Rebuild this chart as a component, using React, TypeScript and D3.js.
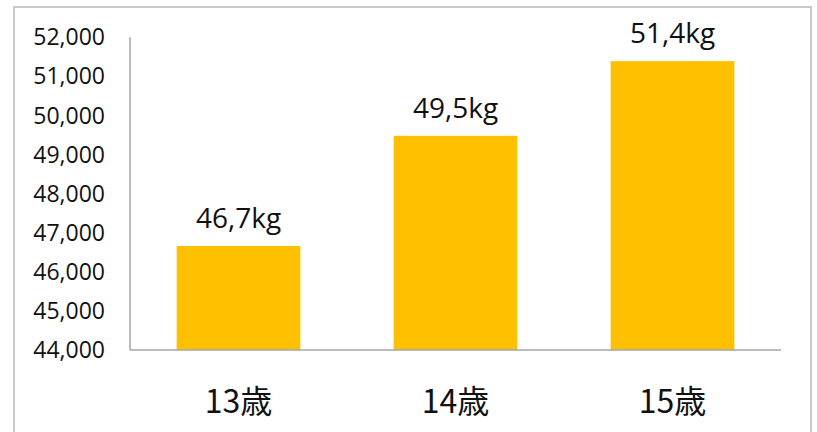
import React from "react";
import * as d3 from "d3";

const categories = ["13歳", "14歳", "15歳"];
const values = [46660, 49480, 51390];
const valueLabels = ["46,7kg", "49,5kg", "51,4kg"];
const yTicks = [44000, 45000, 46000, 47000, 48000, 49000, 50000, 51000, 52000];

const W = 817;
const H = 432;

export default function App() {
  const left = 130;
  const right = 781;
  const top = 37.3;
  const bottom = 350;

  const x = d3.scaleBand<string>().domain(categories).range([left, right]).paddingInner(0.43).paddingOuter(0.215);
  const y = d3.scaleLinear().domain([44000, 52000]).range([bottom, top]);
  const fmt = d3.format(",");
  const font = "'Open Sans', 'Noto Sans', sans-serif";

  return (
    <svg width={W} height={H} style={{ position: "absolute", left: 0, top: 0, background: "#fff" }}>
      <rect x={14} y={7} width={797} height={440} fill="#fff" stroke="#a6a6a6" strokeWidth={1.2} />
      {values.map((v, i) => (
        <rect key={i} x={x(categories[i])} y={y(v)} width={x.bandwidth()} height={bottom - y(v)} fill="#FFC000" />
      ))}
      <line x1={left} x2={left} y1={top} y2={bottom} stroke="#8c8c8c" strokeWidth={1.2} />
      <line x1={left} x2={right} y1={bottom} y2={bottom} stroke="#a6a6a6" strokeWidth={1.5} />
      {yTicks.map((t) => (
        <text key={t} x={105} y={y(t)} dy="0.35em" textAnchor="end" fontFamily={font} fontSize={23} fill="#111">
          {fmt(t)}
        </text>
      ))}
      {values.map((v, i) => (
        <text key={i} x={x(categories[i])! + x.bandwidth() / 2} y={y(v) - 18} textAnchor="middle" fontFamily={font} fontSize={28} fill="#111">
          {valueLabels[i]}
        </text>
      ))}
      {categories.map((c) => (
        <text key={c} x={x(c)! + x.bandwidth() / 2} y={413} textAnchor="middle" fontFamily="'Noto Sans CJK JP', sans-serif" fontSize={32} fill="#111">
          {c}
        </text>
      ))}
    </svg>
  );
}
